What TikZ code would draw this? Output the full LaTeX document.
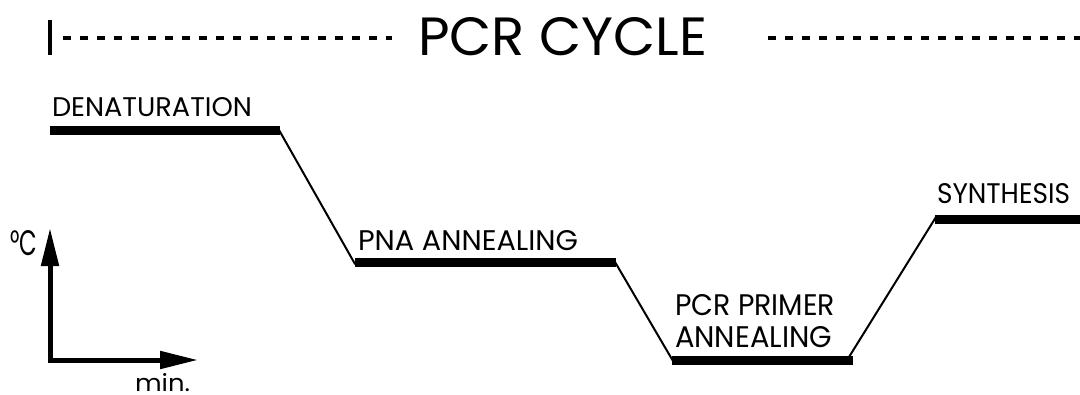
\documentclass[tikz,border=0pt]{standalone}
\usepackage{fontspec}
\setmainfont{Poppins}
\usetikzlibrary{arrows.meta}
\tikzset{
  lbl/.style={anchor=base west, inner sep=0pt, outer sep=0pt},
  plateau/.style={line width=9pt, line cap=butt},
  ramp/.style={line width=2pt, line cap=round},
  dashline/.style={line width=4.5pt, dash pattern=on 8pt off 9pt},
  axis/.style={line width=5pt, -{Triangle[length=38pt,width=17pt]}},
}
\newcommand{\fitbox}[3]{\resizebox{#1}{#2}{#3}}
\begin{document}
\begin{tikzpicture}[x=1pt,y=-1pt]
\useasboundingbox (0,0) rectangle (1080,394);

% header
\coordinate (tickT) at (50,20);
\coordinate (tickB) at (50,55);
\coordinate (dl1) at (63,38);
\coordinate (dl2) at (392,38);
\coordinate (dr1) at (768,38);
\coordinate (dr2) at (1084,38);
\draw[line width=4.5pt] (tickT) -- (tickB);
\draw[dashline] (dl1) -- (dl2);
\draw[dashline] (dr1) -- (dr2);
\node[lbl] (title) at (418,55) {\fitbox{289pt}{38pt}{PCR CYCLE}};

% plateaus
\coordinate (d1) at (50,130);
\coordinate (d2) at (280,130);
\coordinate (p1) at (355,262);
\coordinate (p2) at (616,262);
\coordinate (c1) at (672,360);
\coordinate (c2) at (853,360);
\coordinate (s1) at (935,219);
\coordinate (s2) at (1084,219);
\draw[plateau] (d1) -- (d2);
\draw[plateau] (p1) -- (p2);
\draw[plateau] (c1) -- (c2);
\draw[plateau] (s1) -- (s2);

% ramps
\coordinate (r1a) at (279,130);
\coordinate (r1b) at (355,264);
\coordinate (r2a) at (615,262);
\coordinate (r2b) at (673,361);
\coordinate (r3a) at (849,357);
\coordinate (r3b) at (936,217);
\draw[ramp] (r1a) -- (r1b);
\draw[ramp] (r2a) -- (r2b);
\draw[ramp] (r3a) -- (r3b);

% labels
\node[lbl] (den) at (52,116) {\fitbox{200pt}{19pt}{DENATURATION}};
\node[lbl] (pna) at (358,250) {\fitbox{220pt}{20pt}{PNA ANNEALING}};
\node[lbl] (pcr1) at (675,315) {\fitbox{160pt}{21pt}{PCR PRIMER}};
\node[lbl] (pcr2) at (675,347) {\fitbox{157pt}{21pt}{ANNEALING}};
\node[lbl] (syn) at (937,203) {\fitbox{133pt}{20pt}{SYNTHESIS}};

% axes
\coordinate (o) at (50,360);
\coordinate (ytip) at (50,228);
\coordinate (xtip) at (198,360);
\draw[axis] (50,362.5) -- (ytip);
\draw[axis] (47.5,360) -- (xtip);
\node[lbl] (degc) at (10,255) {\fitbox{27pt}{25pt}{°C}};
\node[lbl] (min) at (135,391) {\fitbox{55pt}{18pt}{min.}};
\end{tikzpicture}
\end{document}
